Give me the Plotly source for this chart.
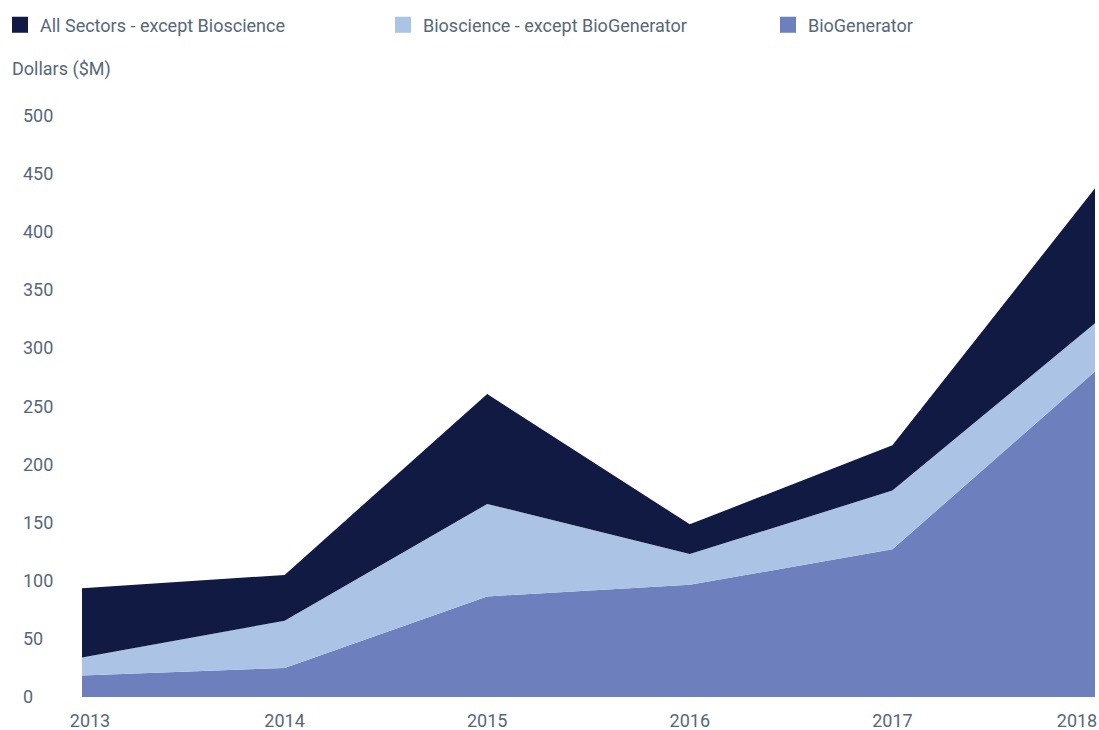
import plotly.graph_objects as go

years = [2013, 2014, 2015, 2016, 2017, 2018]
year_labels = ["2013", "2014", "2015", "2016", "2017", "2018"]
biogenerator = [18.5, 25, 86.5, 96.5, 127, 280]
bioscience_ex_biogen = [15.5, 40.5, 79.5, 26.5, 50.5, 41.5]
all_sectors_ex_bio = [59.5, 39.5, 94.5, 25.5, 39, 116]

names = ["All Sectors - except Bioscience", "Bioscience - except BioGenerator", "BioGenerator"]
colors = ["#111a42", "#abc3e4", "#6d80bd"]
y_ticks = [0, 50, 100, 150, 200, 250, 300, 350, 400, 450, 500]

FONT = "Roboto, sans-serif"
TXT = "#566878"

W, H = 1099, 730
ML, MR, MT, MB = 19, 4, 115, 33
plot_w = W - ML - MR
plot_h = H - MT - MB
x_start = (82 - ML) / plot_w

def px_x(px):
    return (px - ML) / plot_w

def px_y(py):
    return (H - MB - py) / plot_h

fig = go.Figure()
series = [(names[2], biogenerator, colors[2]),
          (names[1], bioscience_ex_biogen, colors[1]),
          (names[0], all_sectors_ex_bio, colors[0])]
for nm, vals, col in series:
    fig.add_trace(go.Scatter(x=years, y=vals, name=nm, mode="none", stackgroup="one",
                             fillcolor=col, line=dict(width=0), showlegend=False,
                             hoverinfo="x+y+name"))

# invisible traces so the overlay axes (edge year labels) are drawn
for xa in ["x2", "x3"]:
    fig.add_trace(go.Scatter(x=[None], y=[None], xaxis=xa, yaxis="y", mode="markers",
                             showlegend=False, hoverinfo="skip"))

legend_keys = ["legend", "legend2", "legend3"]
legend_px = [12, 395, 780]
for nm, col, lk in zip(names, colors, legend_keys):
    fig.add_trace(go.Scatter(x=[None], y=[None], name=nm, mode="markers",
                             marker=dict(symbol="square", size=17, color=col),
                             showlegend=True, legend=lk))

legend_common = dict(orientation="h", xanchor="left", yanchor="middle", y=px_y(25),
                     font=dict(family=FONT, size=18, color=TXT),
                     bgcolor="rgba(0,0,0,0)", itemsizing="trace")
legends = {}
for lk, lx in zip(legend_keys, legend_px):
    legends[lk] = dict(x=px_x(lx - 12), **legend_common)

xcommon = dict(range=[years[0], years[-1]], domain=[x_start, 1], showgrid=False,
               zeroline=False, showline=False, ticks="", ticklabeloverflow="allow",
               automargin=False, ticklabelstandoff=11, tickfont=dict(size=18, color=TXT))

fig.update_layout(
    width=W, height=H,
    margin=dict(l=ML, r=MR, t=MT, b=MB, autoexpand=False),
    paper_bgcolor="white", plot_bgcolor="white",
    font=dict(family=FONT, size=18, color=TXT),
    showlegend=True,
    **legends,
    xaxis=dict(tickvals=years[1:-1], ticktext=year_labels[1:-1], **xcommon),
    xaxis2=dict(tickvals=years[:1], ticktext=year_labels[:1], overlaying="x", anchor="y",
                side="bottom", ticklabelshift=8, **xcommon),
    xaxis3=dict(tickvals=years[-1:], ticktext=year_labels[-1:], overlaying="x", anchor="y",
                side="bottom", ticklabelshift=-18, **xcommon),
    yaxis=dict(range=[0, 500.5], tickvals=y_ticks, anchor="free", position=0,
               ticklabelposition="inside", ticklabeloverflow="allow", automargin=False,
               showgrid=False, zeroline=False, showline=False,
               ticks="", tickfont=dict(size=18, color=TXT)),
    annotations=[dict(text="Dollars ($M)", xref="paper", yref="paper",
                      x=px_x(10), xanchor="left",
                      y=px_y(69), yanchor="middle",
                      showarrow=False, font=dict(family=FONT, size=18, color=TXT))],
)

fig.write_html("out.html")
